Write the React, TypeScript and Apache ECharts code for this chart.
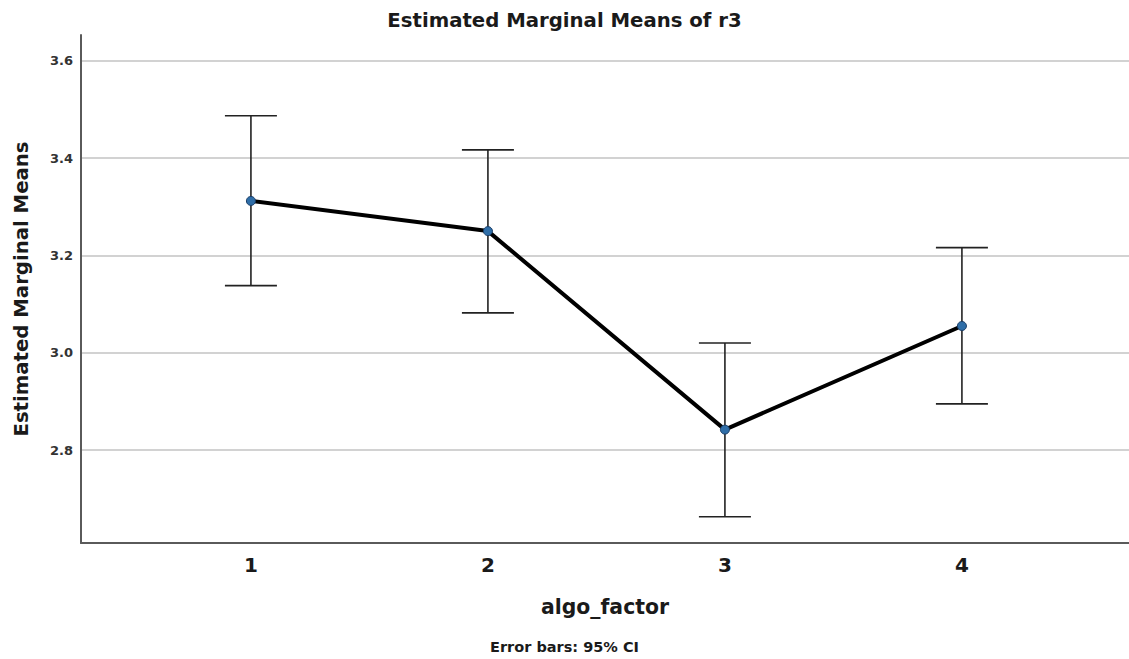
import React, { useEffect, useRef } from "react";
import * as echarts from "echarts";

const categories = [1, 2, 3, 4];
const means = [3.312, 3.25, 2.842, 3.055];
const ciLower = [3.138, 3.082, 2.663, 2.895];
const ciUpper = [3.487, 3.417, 3.02, 3.216];
const yTicks = [2.8, 3.0, 3.2, 3.4, 3.6];

const FONT = "'DejaVu Sans', Verdana, sans-serif";

export default function App() {
  const ref = useRef<HTMLDivElement>(null);
  useEffect(() => {
    if (!ref.current) return;
    const chart = echarts.init(ref.current, undefined, { renderer: "svg" });
    const errData = categories.map((c, i) => [c, ciLower[i], ciUpper[i]]);
    const lineData = categories.map((c, i) => [c, means[i]]);
    chart.setOption({
      animation: false,
      backgroundColor: "#ffffff",
      title: [
        {
          text: "Estimated Marginal Means of r3",
          left: "center",
          top: 5,
          textStyle: { fontFamily: FONT, fontWeight: "bold", fontSize: 19.7, color: "#1a1a1a" },
        },
        {
          text: "Error bars: 95% CI",
          left: "center",
          top: 634,
          textStyle: { fontFamily: FONT, fontWeight: "bold", fontSize: 14.5, color: "#1a1a1a" },
        },
      ],
      grid: { left: 81, right: 0, top: 35, bottom: 116, containLabel: false },
      xAxis: {
        type: "value",
        min: 0.283,
        max: 4.705,
        name: "algo_factor",
        nameLocation: "middle",
        nameGap: 54,
        nameTextStyle: { fontFamily: FONT, fontWeight: "bold", fontSize: 20.4, color: "#1a1a1a" },
        axisLine: { show: true, lineStyle: { color: "#5a5a5a", width: 2 } },
        axisTick: { show: false, customValues: categories },
        axisLabel: {
          customValues: categories,
          fontFamily: FONT,
          fontWeight: "bold",
          fontSize: 20,
          color: "#1a1a1a",
          margin: 12,
        },
        splitLine: { show: false },
      },
      yAxis: {
        type: "value",
        min: 2.609,
        max: 3.653,
        name: "Estimated Marginal Means",
        nameLocation: "middle",
        nameGap: 50,
        nameTextStyle: { fontFamily: FONT, fontWeight: "bold", fontSize: 19.7, color: "#1a1a1a" },
        axisLine: { show: true, lineStyle: { color: "#5a5a5a", width: 2 } },
        axisTick: { show: false, customValues: yTicks },
        axisLabel: {
          customValues: yTicks,
          formatter: (v: number) => v.toFixed(1),
          fontFamily: FONT,
          fontWeight: "bold",
          fontSize: 13,
          color: "#333333",
          margin: 8,
        },
        splitLine: { show: true, lineStyle: { color: "#d2d2d2", width: 2 } },
      },
      series: [
        {
          type: "custom",
          data: errData,
          z: 2,
          renderItem: (params: any, api: any) => {
            const x = api.value(0);
            const top = api.coord([x, api.value(2)]);
            const bot = api.coord([x, api.value(1)]);
            const hw = 26;
            const style = { stroke: "#222222", lineWidth: 1.6 };
            return {
              type: "group",
              children: [
                { type: "line", shape: { x1: top[0], y1: top[1], x2: bot[0], y2: bot[1] }, style },
                { type: "line", shape: { x1: top[0] - hw, y1: top[1], x2: top[0] + hw, y2: top[1] }, style },
                { type: "line", shape: { x1: bot[0] - hw, y1: bot[1], x2: bot[0] + hw, y2: bot[1] }, style },
              ],
            };
          },
        },
        {
          type: "line",
          data: lineData,
          z: 3,
          lineStyle: { color: "#000000", width: 4 },
          symbol: "circle",
          symbolSize: 9,
          itemStyle: { color: "#2f6ea8", borderColor: "#1a3d66", borderWidth: 1 },
        },
      ],
    });
    return () => chart.dispose();
  }, []);
  return <div ref={ref} style={{ width: 1129, height: 659, position: "absolute", left: 0, top: 0 }} />;
}
